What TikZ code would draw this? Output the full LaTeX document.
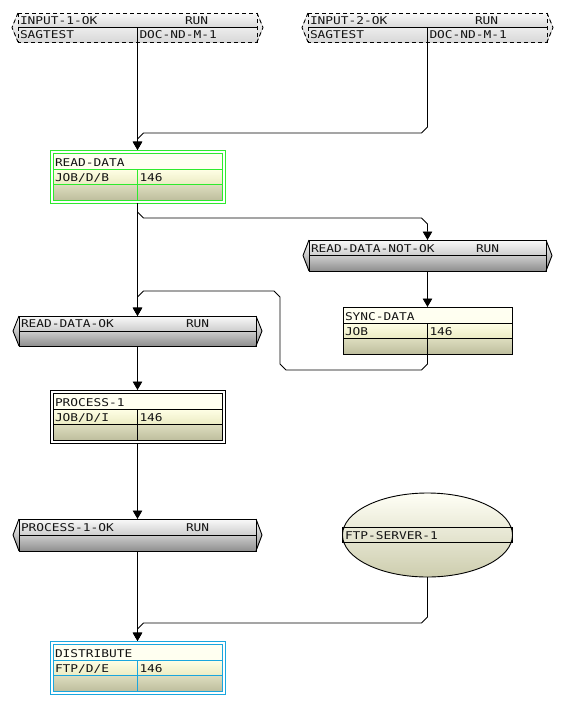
\documentclass[tikz,border=0pt]{standalone}
\usepackage{fontspec}
\newfontfamily\dvm[FakeStretch=1.2]{DejaVu Sans Mono}
\usetikzlibrary{arrows.meta,shapes.geometric,shadings}
\definecolor{txtc}{HTML}{141414}
\definecolor{gA}{HTML}{FAFAFA}
\definecolor{gB}{HTML}{D8D8D8}
\definecolor{gC}{HTML}{CDCDCD}
\definecolor{gD}{HTML}{8E8E8E}
\definecolor{yA}{HTML}{FFFFF2}
\definecolor{yB}{HTML}{FFFFE6}
\definecolor{yC}{HTML}{ECECC4}
\definecolor{yD}{HTML}{DEDEBF}
\definecolor{yE}{HTML}{BEBE9E}
\definecolor{eA}{HTML}{FFFFF6}
\definecolor{eB}{HTML}{F5F5DA}
\definecolor{eC}{HTML}{CDCDAE}
\definecolor{grn}{HTML}{2EEA2E}
\definecolor{blu}{HTML}{1AA6DE}

\tikzset{
  every node/.style={inner sep=0pt, outer sep=0pt, font=\dvm\fontsize{10.7}{12}\selectfont, text=txtc},
  lbl/.style={anchor=base west},
  anchorbox/.style={rectangle, anchor=north west},
  cintip/.style={top color=gA, bottom color=gB},
  cintop/.style={top color=gA, bottom color=gB},
  cinbot/.style={top color=gA!60!gB, bottom color=gB},
  cinline/.style={draw=black, line width=0.9pt, dash pattern=on 4pt off 3pt},
  cruntip/.style={top color=gA, bottom color=gD},
  cruntop/.style={top color=gA, bottom color=gC},
  crunbot/.style={top color=gC, bottom color=gD},
  crunline/.style={draw=black, line width=0.9pt},
  jtitle/.style={top color=yA, bottom color=yA!80!yB},
  jmid/.style={top color=yB, bottom color=yC},
  jlow/.style={top color=yD, bottom color=yE},
  conn/.style={draw=black, line width=0.9pt, -{Triangle[width=9.5pt,length=8.5pt]}},
  ftpshape/.style={ellipse, draw=black, line width=0.9pt, top color=eA, middle color=eB, bottom color=eC, minimum width=170pt, minimum height=84pt},
}

% condition box: name, x0, x1, y0, y1, kind, left text
\newcommand\condbox[7]{%
  \pgfmathsetmacro\cbm{(#4+#5)/2}%
  \fill[#6tip] (#2,#4) -- ({#2-6},\cbm) -- (#2,#5) -- cycle;
  \fill[#6tip] (#3,#4) -- ({#3+6},\cbm) -- (#3,#5) -- cycle;
  \fill[#6top] (#2,#4) rectangle (#3,\cbm);
  \fill[#6bot] (#2,\cbm) rectangle (#3,#5);
  \draw[#6line] (#2,#4) -- ({#2-6},\cbm) -- (#2,#5);
  \draw[#6line] (#3,#4) -- ({#3+6},\cbm) -- (#3,#5);
  \draw[#6line] (#2,#4) rectangle (#3,#5);
  \draw[crunline] (#2,\cbm) -- (#3,\cbm);
  \node[anchorbox, minimum width={(#3-#2)*1pt}, minimum height={(#5-#4)*1pt}] (#1) at (#2,#4) {};
  \node[lbl] (#1-a) at ({#2+2},{\cbm-3.5}) {#7};
  \node[lbl] (#1-r) at ({#2+167},{\cbm-3.5}) {RUN};
}

% job box: name, cx, inner top, colour, title, col1, outer margin
\newcommand\jobbox[7]{%
  \pgfmathsetmacro\jxa{#2-84.5}\pgfmathsetmacro\jxb{#2+84.5}%
  \pgfmathsetmacro\jya{#3+16}\pgfmathsetmacro\jyb{#3+31}\pgfmathsetmacro\jyc{#3+47}%
  \fill[jtitle] (\jxa,#3) rectangle (\jxb,\jya);
  \fill[jmid] (\jxa,\jya) rectangle (\jxb,\jyb);
  \fill[jlow] (\jxa,\jyb) rectangle (\jxb,\jyc);
  \draw[draw=#4, line width=0.9pt] (\jxa,#3) rectangle (\jxb,\jyc)
     (\jxa,\jya) -- (\jxb,\jya) (\jxa,\jyb) -- (\jxb,\jyb) (#2,\jya) -- (#2,\jyc);
  \draw[draw=#4, line width=0.9pt] ({\jxa-#7},{#3-#7}) rectangle ({\jxb+#7},{\jyc+#7});
  \node[anchorbox, minimum width={(169+2*#7)*1pt}, minimum height={(47+2*#7)*1pt}] (#1) at ({\jxa-#7},{#3-#7}) {};
  \node[lbl] (#1-t) at ({\jxa+2},{#3+13}) {#5};
  \node[lbl] (#1-k) at ({\jxa+2},{#3+28}) {#6};
  \node[lbl] (#1-n) at ({#2+2},{#3+28}) {146};
}

\begin{document}
\begin{tikzpicture}[x=1pt,y=-1pt]
\useasboundingbox (0,0) rectangle (564,716);

% inputs
\condbox{in1}{18}{257}{13}{42}{cin}{INPUT-1-OK}
\draw[crunline] (137.5,27.5) -- (137.5,42);
\node[lbl] (in1-b) at (20,38.5) {SAGTEST};
\node[lbl] (in1-c) at (139.5,38.5) {DOC-ND-M-1};

\condbox{in2}{308}{547}{13}{42}{cin}{INPUT-2-OK}
\draw[crunline] (427.5,27.5) -- (427.5,42);
\node[lbl] (in2-b) at (310,38.5) {SAGTEST};
\node[lbl] (in2-c) at (429.5,38.5) {DOC-ND-M-1};

% jobs and conditions
\jobbox{rd}{137.5}{153}{grn}{READ-DATA}{JOB/D/B}{3}
\condbox{rdn}{309}{546}{240}{271}{crun}{READ-DATA-NOT-OK}
\jobbox{sync}{427.5}{307}{black}{SYNC-DATA}{JOB}{0}
\condbox{rdok}{19}{256}{316}{346}{crun}{READ-DATA-OK}
\jobbox{p1}{137.5}{393}{black}{PROCESS-1}{JOB/D/I}{3}
\condbox{p1ok}{19}{256}{519}{551}{crun}{PROCESS-1-OK}
\jobbox{dist}{137.5}{644}{blu}{DISTRIBUTE}{FTP/D/E}{3}

% ftp server
\node[ftpshape] (ftp) at (427.5,535) {};
\draw[crunline] (342.5,527.5) rectangle (512.5,542.5);
\node[lbl] (ftp-t) at (345,539) {FTP-SERVER-1};

% connectors
\draw[conn] (in1.south) -- (rd.north);
\draw[conn] (in2.south) -- ++(0,85) -- ++(-6,6) -- ++(-278,0) -- ++(-6,6) -- (rd.north);
\draw[conn] (rd.south) -- (rdok.north);
\draw[conn] (rd.south) -- ++(0,9) -- ++(6,6) -- ++(278,0) -- ++(6,6) -- (rdn.north);
\draw[conn] (rdn.south) -- (sync.north);
\draw[conn] (sync.south) -- ++(0,10) -- ++(-6,6) -- ++(-135.5,0) -- ++(-6,-6) -- ++(0,-67) -- ++(-6,-6) -- ++(-130.5,0) -- ++(-6,6) -- (rdok.north);
\draw[conn] (rdok.south) -- (p1.north);
\draw[conn] (p1.south) -- (p1ok.north);
\draw[conn] (p1ok.south) -- (dist.north);
\draw[conn] (ftp.south) -- ++(0,40) -- ++(-6,6) -- ++(-278,0) -- ++(-6,6) -- (dist.north);
\end{tikzpicture}
\end{document}
